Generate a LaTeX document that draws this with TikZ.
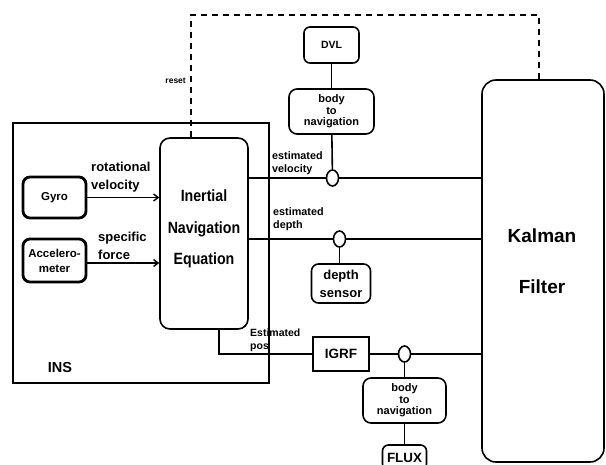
\documentclass[tikz,border=0pt]{standalone}
\usepackage{fontspec}
\setmainfont{Liberation Sans}
\newfontfamily\condfont[FakeStretch=0.87]{Liberation Sans}
\usetikzlibrary{shapes.geometric,arrows.meta,positioning,calc}

\tikzset{
  sensorbox/.style={draw, line width=2.8pt, rounded corners=7pt, align=center, inner sep=0pt},
  procbox/.style={draw, line width=1.6pt, rounded corners=8pt, align=center, inner sep=0pt},
  junction/.style={ellipse, draw, line width=1.6pt, minimum width=12pt, minimum height=16pt, inner sep=0pt},
  signal/.style={line width=1.6pt},
  feed/.style={signal, -{Straight Barb[length=4.5pt,width=7pt,line width=1.4pt]}},
  resetline/.style={line width=1.8pt, dash pattern=on 6pt off 5pt},
  bigtxt/.style={font=\fontsize{13}{18}\selectfont\bfseries, align=left, inner sep=0pt},
  smalltxt/.style={font=\fontsize{10.8}{13}\selectfont\bfseries, align=left, inner sep=0pt},
  b2ntxt/.style={font=\fontsize{11}{11.5}\selectfont\bfseries, align=center}
}

\begin{document}
\begin{tikzpicture}[x=1pt, y=-1pt]
\useasboundingbox (0,0) rectangle (606,464);

% INS frame
\node[draw, line width=1.6pt, minimum width=256pt, minimum height=260pt, inner sep=0pt] (ins) at (141,253) {};
\node[bigtxt, font=\fontsize{14.5}{16}\selectfont\bfseries] (inslbl) at (60,368) {INS};

% sensors and navigation equation
\node[sensorbox, minimum width=63pt, minimum height=41pt, font=\fontsize{11.5}{13}\selectfont\bfseries] (gyro) at (54.5,197.5) {Gyro};
\node[sensorbox, minimum width=63pt, minimum height=43pt, font=\fontsize{11.5}{15}\selectfont\bfseries] (accel) at (54.5,260.5) {Accelero-\\meter};
\node[procbox, rounded corners=10pt, minimum width=88pt, minimum height=191pt] (ine) at (204,233.5) {};
\node[font=\condfont\fontsize{16.3}{31.5}\selectfont\bfseries, align=center, inner sep=0pt] (inelbl) at (204,229) {Inertial\\Navigation\\Equation};

\draw[feed] (gyro.east) -- (ine.west |- gyro.east);
\draw[feed] (accel.east |- 0,263) -- (ine.west |- 0,263);
\node[bigtxt, anchor=west] (rotlbl) at (91,177) {rotational\\velocity};
\node[bigtxt, anchor=west] (forcelbl) at (98,246) {specific\\force};

% Kalman filter
\node[draw, line width=1.6pt, rounded corners=14pt, minimum width=122pt, minimum height=382pt, inner sep=0pt] (kf) at (543,271) {};
\node[font=\fontsize{19}{51}\selectfont\bfseries, align=center, inner sep=0pt] (kflbl) at (542,261.5) {Kalman\\Filter};

% velocity branch
\node[procbox, rounded corners=6pt, minimum width=55pt, minimum height=36pt, font=\fontsize{10.5}{12}\selectfont\bfseries] (dvl) at (331.5,45) {DVL};
\node[procbox, minimum width=85pt, minimum height=45pt, b2ntxt] (bn1) at (331.5,111.5) {body\\to\\navigation};
\node[junction] (velj) at (332.5,178) {};
\draw[signal] (dvl) -- (bn1);
\draw[signal] (bn1) -- (velj);
\draw[signal] (ine.east |- velj) -- (velj.west);
\draw[signal] (velj.east) -- (kf.west |- velj);
\node[smalltxt, anchor=west] (vellbl) at (272,163.5) {estimated\\velocity};

% depth branch
\node[junction] (depj) at (339.5,239) {};
\node[procbox, rounded corners=7pt, minimum width=59pt, minimum height=39pt, font=\fontsize{13}{18}\selectfont\bfseries] (depth) at (341,283.5) {depth\\sensor};
\draw[signal] (depj) -- (depth.north -| depj);
\draw[signal] (ine.east |- depj) -- (depj.west);
\draw[signal] (depj.east) -- (kf.west |- depj);
\node[smalltxt, anchor=west] (deplbl) at (273,219.5) {estimated\\depth};

% position branch
\coordinate (posc) at (219,354);
\node[draw, line width=1.6pt, minimum width=56pt, minimum height=34pt, inner sep=0pt, font=\fontsize{13.5}{15}\selectfont\bfseries] (igrf) at (341,354) {IGRF};
\node[junction] (posj) at (404.5,354) {};
\node[procbox, minimum width=83pt, minimum height=45pt, b2ntxt] (bn2) at (404.5,400.5) {body\\to\\navigation};
\node[procbox, rounded corners=6pt, minimum width=44pt, minimum height=25pt, font=\fontsize{13.4}{15}\selectfont\bfseries] (flux) at (404.5,457.5) {FLUX};
\draw[signal] (ine.south -| posc) -- (posc) -- (igrf.west);
\draw[signal] (igrf.east) -- (posj.west);
\draw[signal] (posj.east) -- (kf.west |- posj);
\draw[signal] (posj) -- (bn2);
\draw[signal] (bn2) -- (flux);
\node[smalltxt, font=\fontsize{10.5}{13}\selectfont\bfseries, anchor=west] (poslbl) at (250,340.5) {Estimated\\pos};

% reset from the filter
\coordinate (resetL) at (191,15);
\coordinate (resetR) at (539,15);
\draw[resetline] (resetL |- ine.north) -- (resetL) -- (resetR) -- (resetR |- kf.north);
\node[font=\fontsize{8.5}{10}\selectfont\bfseries, anchor=east, inner sep=0pt] (resetlbl) at (186,81) {reset};

\end{tikzpicture}
\end{document}
